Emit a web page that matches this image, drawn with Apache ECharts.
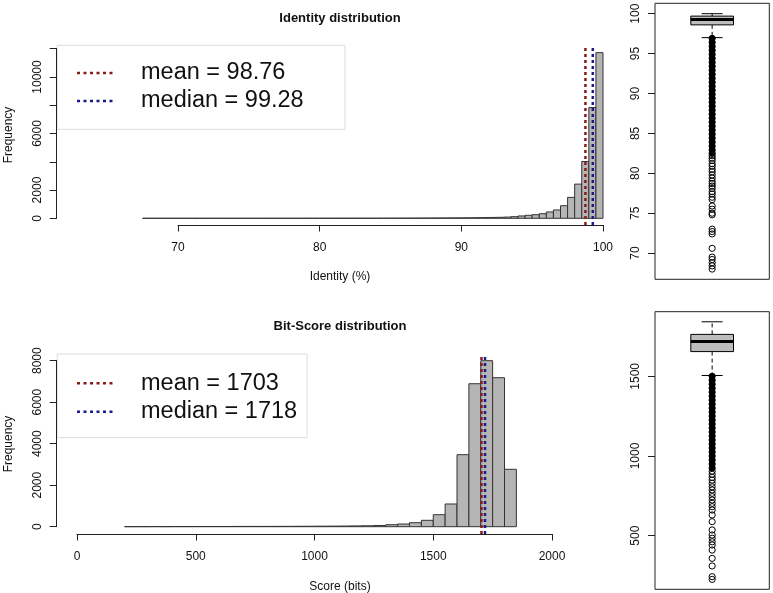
<!DOCTYPE html>
<html><head><meta charset="utf-8">
<script src="https://cdn.jsdelivr.net/npm/echarts@6/dist/echarts.min.js"></script>
<style>html,body{margin:0;padding:0;background:#fff}#c{width:773px;height:593px}</style>
</head><body><div id="c"></div>
<script>
// ---------- DATA ----------
const identityBinStart = 67.5;
const identityBinWidth = 0.5;
const identityCounts = [2,3,1,2,1, 1,1,0,0,1, 2,0,0,0,2, 2,1,2,2,3, 3,3,4,4,4, 5,5,6,6,7,
  8,8,9,10,11, 12,13,15,16,18, 20,22,25,28,31, 35,40,45,52,60, 70,85,115,165,212,
  254,325,447,590,890, 1480,2420,4020,7840,11720];
const identityMean = 98.76;
const identityMedian = 99.28;
const identityXTicks = [70, 80, 90, 100];
const identityYTicks = [0, 2000, 4000, 6000, 8000, 10000, 12000];
const identityYLabels = [0, 2000, 6000, 10000];
const identityBox = [97.0, 98.6, 99.28, 99.7, 100];   // lower whisker, Q1, median, Q3, upper whisker
const identityOutliersDense = [96.9,96.4,95.9,95.4,94.9,94.4,93.9,93.4,92.9,92.4,91.9,91.4,90.9,90.4,89.9,89.4,88.9,88.4,87.9,87.4,86.9,86.4,85.9,85.4,84.9,84.4,83.9,83.4,82.9,82.5];
const identityOutliers = [82.2,81.9,81.6,81.2,80.9,80.5,80.2,79.8,79.4,79.0,78.7,78.4,78.1,77.7,77.4,77.0,76.7,75.9,75.5,75.0,74.8,73.0,72.7,72.4,70.6,69.5,69.2,68.8,68.4,68.0];
const identityBoxTicks = [70, 75, 80, 85, 90, 95, 100];

const scoreBinStart = 200;
const scoreBinWidth = 50;
const scoreCounts = [3,4,6,5,8, 7,9,10,9,12, 14,13,15,17,20, 22,25,28,32,38,
  45,58,96,130,193, 308,578,1094,3470,6890, 8000,7180,2766];
const scoreMean = 1703;
const scoreMedian = 1718;
const scoreXTicks = [0, 500, 1000, 1500, 2000];
const scoreYTicks = [0, 2000, 4000, 6000, 8000];
const scoreYLabels = [0, 2000, 4000, 6000, 8000];
const scoreBox = [1505, 1655, 1718, 1763, 1842];
const scoreOutliersDense = [1500,1475,1450,1425,1400,1375,1350,1325,1300,1275,1250,1225,1200,1175,1150,1125,1100,1075,1050,1025,1000,975,950,925];
const scoreOutliers = [905,885,866,849,829,807,787,766,745,724,703,682,661,630,588,536,504,484,462,442,410,358,310,243,226];
const scoreBoxTicks = [500, 1000, 1500];

// ---------- LAYOUT ----------
const FONT = '"Liberation Sans", Arial, Helvetica, sans-serif';
const AX = '#222';
const L = {
  top:  {l:56.7, r:624, t:45.6, b:225, x0:[70,178], x1:[100,603], y0:[0,218.3], y1:[12000,48.7]},
  bot:  {l:56.7, r:624, t:354.1, b:534, x0:[0,77], x1:[2000,552], y0:[0,526.7], y1:[8000,360.7]},
  boxT: {l:655, r:769.3, t:3.3, b:279.3, y0:[70,253.1], y1:[100,13.7]},
  boxB: {l:655, r:769.3, t:311.7, b:589.3, y0:[500,535.7], y1:[1500,376.3]}
};
function lin(a, b, p){ return a[0] + (p - a[1]) * (b[0] - a[0]) / (b[1] - a[1]); }
function plain(v){ return String(v); }

const grids = [], xAxes = [], yAxes = [], series = [];
function hiddenAxis(gi, min, max){ return {gridIndex: gi, type:'value', min:min, max:max, show:false, splitLine:{show:false}}; }

function addHist(P, counts, start, width, mean, median, xTicks, yTicks, yLabels){
  const gi = grids.length;
  grids.push({left:P.l, top:P.t, width:P.r-P.l, height:P.b-P.t});
  const xmin = lin(P.x0, P.x1, P.l), xmax = lin(P.x0, P.x1, P.r);
  const ymin = lin(P.y0, P.y1, P.b), ymax = lin(P.y0, P.y1, P.t);
  xAxes.push(hiddenAxis(gi, xmin, xmax));
  yAxes.push(hiddenAxis(gi, ymin, ymax));
  series.push({
    type:'custom', xAxisIndex:gi, yAxisIndex:gi, z:2,
    data: counts.map((c,i)=>[start+i*width, start+(i+1)*width, c]),
    encode:{x:[0,1], y:2},
    renderItem:function(params, api){
      const p0 = api.coord([api.value(0), 0]);
      const p1 = api.coord([api.value(1), api.value(2)]);
      return {type:'rect', shape:{x:p0[0], y:p1[1], width:p1[0]-p0[0], height:p0[1]-p1[1]},
        style:{fill:'#b5b5b5', stroke:'#333', lineWidth:1}};
    }
  });
  [[mean,'#8b1a1a'],[median,'#1a1a8b']].forEach(function(m){
    series.push({type:'line', xAxisIndex:gi, yAxisIndex:gi, z:5, symbol:'none', silent:true,
      data:[[m[0], ymin],[m[0], ymax]],
      lineStyle:{color:m[1], width:2.5, type:[3,3]}});
  });
  const gx = grids.length;
  const xa = P.x0[1], xb = P.x1[1];
  grids.push({left:xa, top:P.b-1, width:xb-xa, height:1});
  xAxes.push({gridIndex:gx, type:'value', min:xTicks[0], max:xTicks[xTicks.length-1], interval:xTicks[1]-xTicks[0],
    position:'bottom', z:5,
    axisLine:{show:true, lineStyle:{color:AX, width:1}},
    axisTick:{show:true, length:6.5, lineStyle:{color:AX, width:1}},
    axisLabel:{show:true, margin:17, fontSize:12, color:'#111', fontFamily:FONT, formatter:plain},
    splitLine:{show:false}});
  yAxes.push(hiddenAxis(gx, 0, 1));
  const gy = grids.length;
  const ya = lin([P.y0[1],P.y0[0]],[P.y1[1],P.y1[0]], yTicks[yTicks.length-1]);
  const yb = lin([P.y0[1],P.y0[0]],[P.y1[1],P.y1[0]], yTicks[0]);
  grids.push({left:P.l, top:ya, width:1, height:yb-ya});
  xAxes.push(hiddenAxis(gy, 0, 1));
  yAxes.push({gridIndex:gy, type:'value', min:yTicks[0], max:yTicks[yTicks.length-1], interval:yTicks[1]-yTicks[0],
    position:'left', z:5,
    axisLine:{show:true, lineStyle:{color:AX, width:1}},
    axisTick:{show:true, length:7, lineStyle:{color:AX, width:1}},
    axisLabel:{show:true, rotate:90, margin:13, fontSize:12, color:'#111', fontFamily:FONT,
      formatter:function(v){ return yLabels.indexOf(v) >= 0 ? String(v) : ''; }},
    splitLine:{show:false}});
}

function addBox(P, box, dense, outl, ticks){
  const gi = grids.length;
  grids.push({left:P.l, top:P.t, width:P.r-P.l, height:P.b-P.t, show:true, borderColor:AX, borderWidth:1, backgroundColor:'transparent'});
  const ymin = lin(P.y0, P.y1, P.b), ymax = lin(P.y0, P.y1, P.t);
  xAxes.push(hiddenAxis(gi, 0, 2));
  yAxes.push(hiddenAxis(gi, ymin, ymax));
  series.push({
    type:'custom', xAxisIndex:gi, yAxisIndex:gi, z:2,
    data:[[1].concat(box)], encode:{x:0, y:[1,2,3,4,5]},
    renderItem:function(params, api){
      const cx = api.coord([api.value(0), api.value(3)])[0];
      const y = function(k){ return api.coord([1, api.value(k)])[1]; };
      const lo=y(1), q1=y(2), md=y(3), q3=y(4), hi=y(5);
      const bw = 42.7, cw = 21;
      const solid = {stroke:'#000', lineWidth:1};
      const dash = {stroke:'#000', lineWidth:1, lineDash:[4,3]};
      return {type:'group', children:[
        {type:'line', shape:{x1:cx,y1:q3,x2:cx,y2:hi}, style:dash},
        {type:'line', shape:{x1:cx,y1:q1,x2:cx,y2:lo}, style:dash},
        {type:'line', shape:{x1:cx-cw/2,y1:hi,x2:cx+cw/2,y2:hi}, style:solid},
        {type:'line', shape:{x1:cx-cw/2,y1:lo,x2:cx+cw/2,y2:lo}, style:solid},
        {type:'rect', shape:{x:cx-bw/2, y:q3, width:bw, height:q1-q3}, style:{fill:'#bdbdbd', stroke:'#000', lineWidth:1}},
        {type:'line', shape:{x1:cx-bw/2,y1:md,x2:cx+bw/2,y2:md}, style:{stroke:'#000', lineWidth:3}}
      ]};
    }
  });
  series.push({type:'scatter', xAxisIndex:gi, yAxisIndex:gi, z:3, symbol:'circle', symbolSize:6.2, silent:true,
    data: dense.map(function(v){ return [1, v]; }),
    itemStyle:{color:'#000', borderColor:'#000', borderWidth:1, opacity:1}});
  series.push({type:'scatter', xAxisIndex:gi, yAxisIndex:gi, z:3, symbol:'circle', symbolSize:6.2, silent:true,
    data: outl.map(function(v){ return [1, v]; }),
    itemStyle:{color:'rgba(0,0,0,0)', borderColor:'#000', borderWidth:1, opacity:1}});
  const gy = grids.length;
  const ya = lin([P.y0[1],P.y0[0]],[P.y1[1],P.y1[0]], ticks[ticks.length-1]);
  const yb = lin([P.y0[1],P.y0[0]],[P.y1[1],P.y1[0]], ticks[0]);
  grids.push({left:P.l, top:ya, width:1, height:yb-ya});
  xAxes.push(hiddenAxis(gy, 0, 1));
  yAxes.push({gridIndex:gy, type:'value', min:ticks[0], max:ticks[ticks.length-1], interval:ticks[1]-ticks[0],
    position:'left', z:5,
    axisLine:{show:false},
    axisTick:{show:true, length:7, lineStyle:{color:AX, width:1}},
    axisLabel:{show:true, rotate:90, margin:13, fontSize:12, color:'#111', fontFamily:FONT, formatter:plain},
    splitLine:{show:false}});
}

addHist(L.top, identityCounts, identityBinStart, identityBinWidth, identityMean, identityMedian, identityXTicks, identityYTicks, identityYLabels);
addHist(L.bot, scoreCounts, scoreBinStart, scoreBinWidth, scoreMean, scoreMedian, scoreXTicks, scoreYTicks, scoreYLabels);
addBox(L.boxT, identityBox, identityOutliersDense, identityOutliers, identityBoxTicks);
addBox(L.boxB, scoreBox, scoreOutliersDense, scoreOutliers, scoreBoxTicks);

function txt(x, y, s, size, weight, rot){
  return {type:'text', x:x, y:y, rotation: rot || 0, z:10,
    style:{text:s, fontSize:size, fontWeight:weight || 'normal', fontFamily:FONT, fill:'#111', align:'center', verticalAlign:'middle'}};
}
function legend(top, h, right, y1, y2, t1, t2){
  return [
    {type:'rect', z:1, shape:{x:57.2, y:top, width:right-57.2, height:h}, style:{fill:'#fff', stroke:'#dcdcdc', lineWidth:1}},
    {type:'line', z:2, shape:{x1:77, y1:y1, x2:116, y2:y1}, style:{stroke:'#8b1a1a', lineWidth:2.5, lineDash:[3,3.5]}},
    {type:'line', z:2, shape:{x1:77, y1:y2, x2:116, y2:y2}, style:{stroke:'#1a1a8b', lineWidth:2.5, lineDash:[3,3.5]}},
    {type:'text', z:2, x:141, y:y1, style:{text:t1, fontSize:23.5, fontFamily:FONT, fill:'#111', align:'left', verticalAlign:'middle'}},
    {type:'text', z:2, x:141, y:y2, style:{text:t2, fontSize:23.5, fontFamily:FONT, fill:'#111', align:'left', verticalAlign:'middle'}}
  ];
}

const graphic = [
  txt(340, 18, 'Identity distribution', 13, 'bold'),
  txt(340, 326.5, 'Bit-Score distribution', 13, 'bold'),
  txt(9, 135, 'Frequency', 12, 'normal', Math.PI/2),
  txt(9, 444, 'Frequency', 12, 'normal', Math.PI/2),
  txt(340, 277, 'Identity (%)', 12),
  txt(340, 587, 'Score (bits)', 12)
].concat(
  legend(45.3, 84, 345, 73, 101, 'mean = ' + identityMean.toFixed(2), 'median = ' + identityMedian.toFixed(2)),
  legend(354, 83.7, 307, 383.3, 411.7, 'mean = ' + scoreMean, 'median = ' + scoreMedian)
);

const chart = echarts.init(document.getElementById('c'), null, {renderer:'canvas'});
chart.setOption({
  animation:false,
  backgroundColor:'#fff',
  grid: grids, xAxis: xAxes, yAxis: yAxes, series: series, graphic: graphic
});
</script></body></html>
